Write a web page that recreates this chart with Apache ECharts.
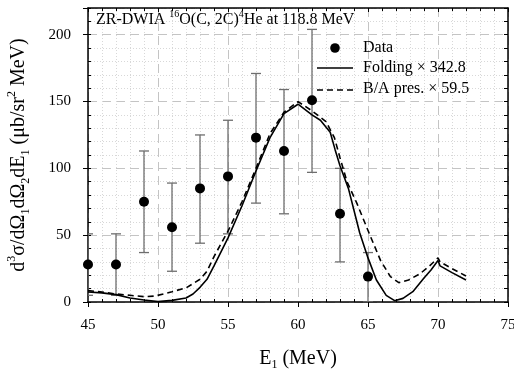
<!DOCTYPE html>
<html><head><meta charset="utf-8">
<script src="https://cdn.jsdelivr.net/npm/echarts@6/dist/echarts.min.js"></script>
<style>html,body{margin:0;padding:0;background:#fff}#c{width:514px;height:372px}</style>
</head><body><div id="c"></div>
<script>
// ---- data ----
const dataE    = [45, 47, 49, 51, 53, 55, 57, 59, 61, 63, 65];
const dataY    = [28, 28, 75, 56, 85, 94, 123, 113, 151, 66, 19];
const errLow   = [5, 5, 37, 23, 44, 51, 74, 66, 97, 30, 0];
const errHigh  = [51, 51, 113, 89, 125, 136, 171, 159, 204, 100, 37];

const foldE    = [45, 46, 47, 48, 49, 50, 51, 52, 52.5, 53, 53.5, 54, 55, 56, 57, 58, 59, 60, 61, 61.6, 62.3, 62.65, 63, 63.6, 64.4, 65, 65.6, 66.3, 66.9, 67.5, 68.2, 69, 69.5, 70, 70.15, 71, 72];
const foldY    = [7.5, 6.8, 5.5, 3, 1.5, 0.3, 1.2, 3, 6, 11, 17, 27, 48, 72, 98, 123, 141, 148, 140, 136, 127, 114, 102, 85, 52, 33, 16.5, 5, 1, 2.7, 7.7, 18, 24, 31, 27, 22, 16.5];

const baE      = [45, 46, 47, 48, 49, 49.8, 51, 52, 53, 53.5, 54, 55, 56, 57, 58, 59, 60, 61, 62, 62.6, 63, 63.5, 64.2, 65.1, 65.9, 66.6, 67.2, 67.9, 68.7, 69.4, 70, 70.15, 71, 72];
const baY      = [8.5, 7.5, 6, 5, 4, 4.5, 7.7, 10.5, 17, 23, 34, 53, 75, 100, 126, 142, 150, 143, 135, 123, 108, 90, 74, 51, 31, 19, 14.5, 16.5, 21, 27, 33, 30, 25, 19.5];

const xTicks = [45, 50, 55, 60, 65, 70, 75];
const yTicks = [0, 50, 100, 150, 200];

const legendNames = ['Data', 'Folding \u00d7 342.8', 'B/A pres. \u00d7 59.5'];
const titleText = 'ZR-DWIA {sup|16}O(C, 2C){sup|4}He at 118.8 MeV';

// ---- chart ----
const F = '"Liberation Serif", "Times New Roman", serif';
const chart = echarts.init(document.getElementById('c'), null, {renderer: 'canvas'});
const axisLineStyle = {color: '#000', width: 1.5};
const xMin = xTicks[0], xMax = xTicks[xTicks.length - 1];
const yMin = yTicks[0], yMax = 220;

const option = {
  animation: false,
  backgroundColor: '#fff',
  grid: {left: 88, right: 6, top: 8, bottom: 70, show: false, containLabel: false, outerBoundsMode: 'none'},
  xAxis: [
    { type: 'value', min: xMin, max: xMax, interval: 5, position: 'bottom',
      axisLine: {show: true, onZero: false, lineStyle: axisLineStyle},
      axisTick: {show: true, inside: false, length: 5, lineStyle: {color: '#000'}},
      minorTick: {show: true, splitNumber: 5, length: -3, lineStyle: {color: '#000'}},
      axisLabel: {fontFamily: F, fontSize: 15, color: '#000', margin: 16},
      splitLine: {show: true, lineStyle: {color: '#c4c4c4', type: [9, 5], width: 1}},
      minorSplitLine: {show: true, lineStyle: {color: '#d8d8d8', type: [1, 2], width: 1}},
      name: 'E{sub|1} (MeV)', nameLocation: 'middle', nameGap: 45,
      nameTextStyle: {fontFamily: F, fontSize: 20, color: '#000', lineHeight: 24,
        rich: {sub: {fontFamily: F, fontSize: 12, color: '#000', verticalAlign: 'bottom', lineHeight: 14}}}
    },
    { type: 'value', min: xMin, max: xMax, interval: 5, position: 'top',
      axisLine: {show: true, onZero: false, lineStyle: axisLineStyle},
      axisTick: {show: true, inside: true, length: 4, lineStyle: {color: '#000'}},
      minorTick: {show: true, splitNumber: 5, length: 3, lineStyle: {color: '#000'}},
      axisLabel: {show: false}, splitLine: {show: false}
    }
  ],
  yAxis: [
    { type: 'value', min: yMin, max: yMax, interval: 50, position: 'left',
      axisLine: {show: true, onZero: false, lineStyle: axisLineStyle},
      axisTick: {show: true, inside: false, length: 5, lineStyle: {color: '#000'}},
      axisLabel: {fontFamily: F, fontSize: 15, color: '#000', margin: 17,
        formatter: v => (yTicks.indexOf(v) >= 0 ? String(v) : '')},
      splitLine: {show: true, lineStyle: {color: '#c4c4c4', type: [9, 5], width: 1}},
      name: 'd{sup|3}\u03c3/d\u03a9{sub|1}d\u03a9{sub|2}dE{sub|1} (\u03bcb/sr{sup|2} MeV)',
      nameLocation: 'middle', nameGap: 56, nameRotate: 90,
      nameTextStyle: {fontFamily: F, fontSize: 20, color: '#000', lineHeight: 26,
        rich: {
          sup: {fontFamily: F, fontSize: 12, color: '#000', verticalAlign: 'top', lineHeight: 12},
          sub: {fontFamily: F, fontSize: 12, color: '#000', verticalAlign: 'bottom', lineHeight: 14}
        }}
    },
    { type: 'value', min: yMin, max: yMax, interval: 10, position: 'left',
      axisLine: {show: false},
      axisTick: {show: true, inside: true, length: 3, lineStyle: {color: '#000'}},
      axisLabel: {show: false},
      splitLine: {show: true, lineStyle: {color: ['transparent', '#d8d8d8', '#d8d8d8', '#d8d8d8', '#d8d8d8'], type: [1, 2], width: 1}}
    },
    { type: 'value', min: yMin, max: yMax, interval: 10, position: 'right',
      axisLine: {show: true, onZero: false, lineStyle: axisLineStyle},
      axisTick: {show: true, inside: true, length: 4, lineStyle: {color: '#000'}},
      axisLabel: {show: false}, splitLine: {show: false}
    }
  ],
  series: [
    { type: 'custom', name: 'err', xAxisIndex: 0, yAxisIndex: 0, clip: true, z: 3,
      data: dataE.map((e, i) => [e, errLow[i], errHigh[i]]),
      renderItem: function (params, api) {
        const x = api.value(0), lo = api.value(1), hi = api.value(2);
        const p1 = api.coord([x, lo]), p2 = api.coord([x, hi]);
        const w = 5, st = {stroke: '#6e6e6e', lineWidth: 1.3};
        return {type: 'group', children: [
          {type: 'line', shape: {x1: p1[0], y1: p1[1], x2: p2[0], y2: p2[1]}, style: st},
          {type: 'line', shape: {x1: p1[0] - w, y1: p1[1], x2: p1[0] + w, y2: p1[1]}, style: st},
          {type: 'line', shape: {x1: p2[0] - w, y1: p2[1], x2: p2[0] + w, y2: p2[1]}, style: st}
        ]};
      }
    },
    { type: 'line', name: legendNames[1], xAxisIndex: 0, yAxisIndex: 0, showSymbol: false, z: 4,
      data: foldE.map((e, i) => [e, foldY[i]]),
      lineStyle: {color: '#000', width: 1.6} },
    { type: 'line', name: legendNames[2], xAxisIndex: 0, yAxisIndex: 0, showSymbol: false, z: 4,
      data: baE.map((e, i) => [e, baY[i]]),
      lineStyle: {color: '#000', width: 1.6, type: [6, 4]} },
    { type: 'scatter', name: legendNames[0], xAxisIndex: 0, yAxisIndex: 0, z: 5,
      symbol: 'circle', symbolSize: 10, itemStyle: {color: '#000', opacity: 1},
      data: dataE.map((e, i) => [e, dataY[i]]) }
  ],
  graphic: [
    { type: 'text', left: 96, top: 9, z: 10,
      style: { text: titleText, font: '16px ' + F, fill: '#000',
        rich: { sup: {fontFamily: F, fontSize: 10, fill: '#000', verticalAlign: 'top', lineHeight: 10} },
        lineHeight: 21 } },
    { type: 'circle', shape: {cx: 335, cy: 48, r: 4.8}, style: {fill: '#000'}, z: 10 },
    { type: 'text', x: 363, y: 48, z: 10, style: {text: legendNames[0], font: '16px ' + F, fill: '#000', verticalAlign: 'middle'} },
    { type: 'line', shape: {x1: 317, y1: 68, x2: 353, y2: 68}, style: {stroke: '#000', lineWidth: 1.6}, z: 10 },
    { type: 'text', x: 363, y: 67.5, z: 10, style: {text: legendNames[1], font: '16px ' + F, fill: '#000', verticalAlign: 'middle'} },
    { type: 'line', shape: {x1: 317, y1: 90, x2: 353, y2: 90}, style: {stroke: '#000', lineWidth: 1.6, lineDash: [6, 4]}, z: 10 },
    { type: 'text', x: 363, y: 88.5, z: 10, style: {text: legendNames[2], font: '16px ' + F, fill: '#000', verticalAlign: 'middle'} }
  ]
};
chart.setOption(option);
</script>
</body></html>
